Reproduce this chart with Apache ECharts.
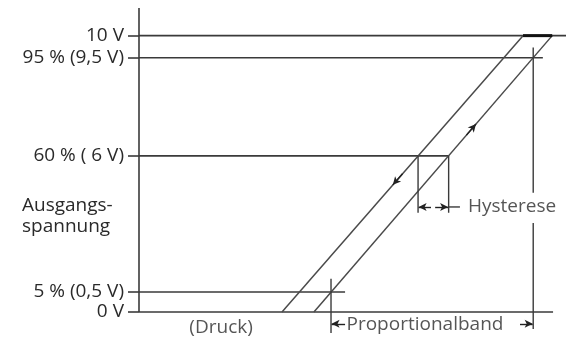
<!DOCTYPE html>
<html>
<head>
<meta charset="utf-8">
<script src="https://cdn.jsdelivr.net/npm/echarts@6/dist/echarts.min.js"></script>
<style>
html,body{margin:0;padding:0;background:#fff}
#chart{width:566px;height:343px}
</style>
</head>
<body>
<div id="chart"></div>
<script>
// Ausgangsspannung levels (drawn height on the schematic)
var levelLabels = ['0 V', '5 % (0,5 V)', '60 % ( 6 V)', '95 % (9,5 V)', '10 V'];
var levelValues = [0, 0.72, 5.65, 9.2, 10];
var levelEnds = [15.03, 7.48, 11.24, 14.66, 15.5];   // where each level line stops

// hysteresis loop
var fallingLine = [[13.94, 10], [5.19, 0]];
var risingLine = [[6.35, 0], [15.0, 10]];
var topSegment = [[13.94, 10], [15.0, 10]];

// y axis line and guide lines (hysteresis, proportional band)
var axisLine = [[0, 0], [0, 11]];
var guideLines = [
  [[10.13, 5.65], [10.13, 3.59]],
  [[11.24, 5.65], [11.24, 3.59]],
  [[11.24, 3.8], [11.65, 3.8]],
  [[14.31, 9.57], [14.31, 4.31]],
  [[14.31, 3.22], [14.31, -0.62]],
  [[6.97, 1.2], [6.97, -0.76]]
];
var arrowLines = [
  [[10.6, 3.8], [10.15, 3.8]],
  [[10.75, 3.8], [11.22, 3.8]],
  [[7.48, -0.43], [6.99, -0.43]],
  [[13.83, -0.43], [14.29, -0.43]],
  [[9.565, 5.0], [9.215, 4.6]],
  [[11.886, 6.4], [12.232, 6.8]]
];

// notes
var noteTexts = ['Hysterese', 'Proportionalband', '(Druck)'];
var notePos = [[11.94, 3.8], [10.38, -0.45], [2.98, -0.56]];
var noteAlign = ['left', 'center', 'center'];

var lineColor = '#3a3a3a';
var textColor = '#2a2a2a';
var font = 'Open Sans';
var fontSize = 19;

var myChart = echarts.init(document.getElementById('chart'));

var series = [];
function addLine(pts, w, c) {
  series.push({
    type: 'line',
    data: pts,
    symbol: 'none',
    clip: false,
    silent: true,
    lineStyle: { color: c || lineColor, width: w || 1.5 }
  });
}

addLine(axisLine, 1.6);
for (var i = 0; i < levelValues.length; i++) {
  addLine([[0, levelValues[i]], [levelEnds[i], levelValues[i]]], 1.6);
}
addLine(fallingLine, 1.5, '#4a4a4a');
addLine(risingLine, 1.5, '#4a4a4a');
addLine(topSegment, 3, '#111');
for (var j = 0; j < guideLines.length; j++) {
  addLine(guideLines[j], 1.4);
}

// arrows
series.push({
  type: 'line',
  data: [],
  clip: false,
  silent: true,
  markLine: {
    silent: true,
    animation: false,
    symbol: ['none', 'arrow'],
    symbolSize: [6, 8],
    label: { show: false },
    lineStyle: { color: '#222', width: 1.4, type: 'solid' },
    data: arrowLines.map(function (a) {
      return [{ coord: a[0] }, { coord: a[1] }];
    })
  }
});

// note texts
series.push({
  type: 'scatter',
  symbolSize: 0,
  clip: false,
  silent: true,
  data: noteTexts.map(function (t, k) {
    return {
      value: notePos[k],
      label: {
        show: true,
        formatter: t,
        position: noteAlign[k] === 'left' ? 'right' : 'inside',
        distance: 0,
        color: textColor,
        fontSize: fontSize,
        fontFamily: font
      }
    };
  })
});

myChart.setOption({
  animation: false,
  grid: { left: 139, right: 0, top: 8, bottom: 3.4 },
  xAxis: {
    type: 'value',
    min: 0,
    max: 15.5,
    show: false
  },
  yAxis: {
    type: 'value',
    min: -1,
    max: 11,
    splitLine: { show: false },
    axisLine: { show: false },
    axisTick: {
      show: true,
      customValues: levelValues,
      length: 11,
      lineStyle: { color: lineColor, width: 1.6 }
    },
    axisLabel: {
      customValues: levelValues,
      margin: 15,
      color: textColor,
      fontSize: fontSize,
      fontFamily: font,
      formatter: function (v) {
        var k = levelValues.indexOf(v);
        return k >= 0 ? levelLabels[k] : '';
      }
    }
  },
  graphic: [{
    type: 'text',
    left: 22,
    top: 195,
    style: {
      text: 'Ausgangs-\nspannung',
      fill: textColor,
      font: fontSize + 'px "Open Sans"',
      lineHeight: 21
    }
  }],
  series: series
});
</script>
</body>
</html>
